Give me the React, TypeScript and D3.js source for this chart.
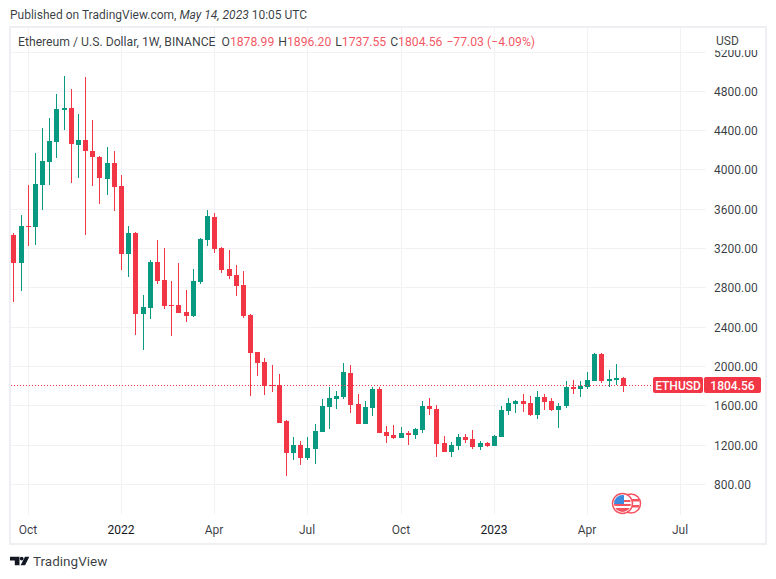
import * as d3 from 'd3';

const opens = [3340, 3057, 3431, 3414, 3849, 4083, 4287, 4613, 4633, 4256, 4307, 4195, 4134, 3910, 4073, 3839, 3146, 3360, 2535, 2596, 3065, 2881, 2627, 2627, 2555, 2515, 2861, 3289, 3523, 3207, 2993, 2932, 2830, 2525, 2148, 2046, 1812, 1812, 1445, 1119, 1201, 1068, 1160, 1333, 1588, 1669, 1690, 1934, 1618, 1415, 1577, 1771, 1333, 1303, 1272, 1323, 1303, 1354, 1598, 1567, 1221, 1129, 1191, 1282, 1262, 1180, 1221, 1191, 1282, 1547, 1618, 1649, 1628, 1506, 1690, 1649, 1557, 1598, 1791, 1771, 1791, 1853, 2128, 1853, 1863, 1878.99];
const highs = [3360, 3543, 3849, 4175, 4429, 4531, 4776, 4959, 4826, 4572, 4949, 4511, 4144, 4236, 4195, 3951, 3431, 3370, 2728, 3085, 3289, 3207, 2871, 3054, 2779, 2993, 3309, 3594, 3564, 3217, 3187, 3034, 2973, 2535, 2148, 2087, 2015, 1924, 1455, 1282, 1241, 1282, 1415, 1669, 1791, 1751, 2036, 2015, 1720, 1649, 1791, 1791, 1394, 1405, 1384, 1343, 1374, 1649, 1679, 1608, 1292, 1231, 1313, 1313, 1354, 1241, 1231, 1303, 1598, 1679, 1659, 1720, 1700, 1751, 1720, 1679, 1628, 1853, 1863, 1853, 1944, 2138, 2138, 1965, 2026, 1896.2];
const lows = [2660, 2769, 3230, 3238, 3594, 3849, 4124, 4409, 3869, 3920, 3340, 3839, 3655, 3747, 3584, 2983, 2912, 2321, 2168, 2484, 2840, 2586, 2311, 2545, 2453, 2504, 2840, 3228, 3156, 2953, 2891, 2718, 2494, 1700, 1903, 1710, 1741, 1425, 885, 1048, 997, 1048, 1007, 1333, 1364, 1567, 1669, 1527, 1415, 1415, 1496, 1323, 1221, 1262, 1272, 1201, 1262, 1323, 1506, 1079, 1129, 1079, 1150, 1221, 1160, 1150, 1180, 1191, 1282, 1506, 1527, 1537, 1496, 1466, 1557, 1547, 1374, 1577, 1720, 1690, 1771, 1853, 1832, 1791, 1812, 1737.55];
const closes = [3057, 3431, 3421, 3859, 4093, 4297, 4623, 4633, 4266, 4307, 4195, 4134, 3920, 4073, 3828, 3146, 3360, 2535, 2606, 3065, 2871, 2616, 2616, 2545, 2515, 2871, 3299, 3533, 3197, 2983, 2922, 2820, 2515, 2138, 2036, 1802, 1802, 1425, 1119, 1201, 1068, 1170, 1343, 1598, 1679, 1700, 1944, 1608, 1415, 1588, 1771, 1323, 1292, 1272, 1323, 1303, 1364, 1598, 1567, 1211, 1129, 1201, 1282, 1252, 1180, 1221, 1191, 1292, 1557, 1628, 1649, 1618, 1506, 1690, 1639, 1557, 1598, 1791, 1771, 1802, 1863, 2128, 1853, 1873, 1883, 1804.56];

const priceTicks = [800, 1200, 1600, 2000, 2400, 2800, 3200, 3600, 4000, 4400, 4800, 5200];
// bar index of each time label, counted in weeks from the first candle
const timeTicks = [2, 15, 28, 41, 54, 67, 80, 93];
const timeLabels = ['Oct', '2022', 'Apr', 'Jul', 'Oct', '2023', 'Apr', 'Jul'];

const lastClose = closes[closes.length - 1];

const UP = '#089981';
const DOWN = '#F23645';
const GRID = '#F2F2F5';
const FRAME = '#EEEEF3';
const TEXT = '#131722';
const FONT = 'Roboto, sans-serif';

const x = d3.scaleLinear().domain([0, 93]).range([13.95, 680.76]);
const y = d3.scaleLinear().domain([800, 5200]).range([484.3, 52]);

const px = (i: number) => Math.floor(x(i));

export default function App() {
    const lastY = Math.floor(y(lastClose));

    return (
        <svg
            width={776}
            height={579}
            viewBox="0 0 776 579"
            style={{ position: 'absolute', left: 0, top: 0, background: '#fff' }}
            fontFamily={FONT}
        >
            <defs>
                <clipPath id="flagClip">
                    <circle cx={622.5} cy={503.5} r={8.5} />
                </clipPath>
            </defs>

            <text x={10} y={19} fontSize={12} fill={TEXT} fillOpacity={0.85}>
                Published on TradingView.com, <tspan fontStyle="italic">May 14, 2023</tspan> 10:05 UTC
            </text>

            <g shapeRendering="crispEdges">
                {priceTicks.map((d) => (
                    <line key={d} x1={11} x2={706} y1={Math.floor(y(d)) + 0.5} y2={Math.floor(y(d)) + 0.5} stroke={GRID} />
                ))}
                {timeTicks.map((d) => (
                    <line key={d} x1={px(d) + 0.5} x2={px(d) + 0.5} y1={28} y2={515} stroke={GRID} />
                ))}
                <rect x={10} y={27} width={756} height={517} fill="none" stroke={FRAME} strokeWidth={2} />
            </g>

            <g shapeRendering="crispEdges">
                {closes.map((c, i) => {
                    const o = opens[i];
                    const color = c >= o ? UP : DOWN;
                    const top = Math.round(y(Math.max(o, c)));
                    const bottom = Math.round(y(Math.min(o, c)));
                    return (
                        <g key={i} fill={color}>
                            <rect
                                x={px(i)}
                                y={Math.round(y(highs[i]))}
                                width={1}
                                height={Math.max(1, Math.round(y(lows[i])) - Math.round(y(highs[i])))}
                            />
                            <rect x={px(i) - 2} y={top} width={5} height={Math.max(1, bottom - top)} />
                        </g>
                    );
                })}
            </g>

            <line x1={11} x2={653} y1={lastY + 0.5} y2={lastY + 0.5} stroke={DOWN} strokeWidth={1} strokeDasharray="1 2" shapeRendering="crispEdges" />

            <g fontSize={12} fill={TEXT} fillOpacity={0.85}>
                {priceTicks.map((d) => (
                    <text key={d} x={714} y={y(d) + 4.5}>
                        {d3.format('.2f')(d)}
                    </text>
                ))}
                {timeTicks.map((d, i) => (
                    <text
                        key={d}
                        x={px(d)}
                        y={534}
                        textAnchor="middle"
                        fillOpacity={timeLabels[i].length === 4 ? 1 : 0.85}
                    >
                        {timeLabels[i]}
                    </text>
                ))}
            </g>

            {/* header strip hides the top of the 5200 label */}
            <rect x={707} y={29} width={58} height={21} fill="#fff" />
            <text x={716} y={45} fontSize={12} fill={TEXT} fillOpacity={0.85}>
                USD
            </text>

            <text x={18} y={46} fontSize={12.2} fill={TEXT} fillOpacity={0.85}>
                Ethereum / U.S. Dollar, 1W, BINANCE
                <tspan dx={6}>O</tspan>
                <tspan fill={DOWN}>{d3.format('.2f')(opens[85])}</tspan>
                <tspan dx={4}>H</tspan>
                <tspan fill={DOWN}>{d3.format('.2f')(highs[85])}</tspan>
                <tspan dx={4}>L</tspan>
                <tspan fill={DOWN}>{d3.format('.2f')(lows[85])}</tspan>
                <tspan dx={4}>C</tspan>
                <tspan fill={DOWN}>{d3.format('.2f')(lastClose)}</tspan>
                <tspan dx={4} fill={DOWN}>−77.03 (−4.09%)</tspan>
            </text>

            <rect x={653} y={lastY - 8} width={50} height={16} rx={2} fill={DOWN} />
            <rect x={704} y={lastY - 8} width={57} height={16} rx={2} fill={DOWN} />
            <text x={678} y={lastY + 4.5} fontSize={12} fontWeight={500} fill="#fff" textAnchor="middle">
                ETHUSD
            </text>
            <text x={732.5} y={lastY + 4.5} fontSize={12} fontWeight={500} fill="#fff" textAnchor="middle">
                {d3.format('.2f')(lastClose)}
            </text>

            {/* currency marker */}
            <g>
                <circle cx={631} cy={503.5} r={9.5} fill="#fff" stroke="#F7525F" strokeWidth={1.5} />
                <rect x={629} y={499} width={10} height={2.5} fill="#F7525F" />
                <rect x={629} y={505} width={10} height={2.5} fill="#F7525F" />
                <circle cx={622.5} cy={503.5} r={10} fill="#fff" stroke="#F7525F" strokeWidth={1.5} />
                <g clipPath="url(#flagClip)">
                    <rect x={614} y={495} width={17} height={17} fill="#fff" />
                    <rect x={614} y={500} width={17} height={2} fill="#F7525F" />
                    <rect x={614} y={504} width={17} height={2} fill="#F7525F" />
                    <rect x={614} y={508} width={17} height={4} fill="#F7525F" />
                    <rect x={614} y={495} width={10} height={9} fill="#3D8BE0" />
                </g>
            </g>

            {/* TradingView logo */}
            <path
                d="M10 556.7h9.5v8.6h-4.7v-4.8h-4.8z M25 556.7h4.3l-4.2 8.6h-4.5z"
                fill={TEXT}
            />
            <circle cx={21.7} cy={558.6} r={1.9} fill={TEXT} />
            <text x={33} y={566} fontSize={13.5} fill={TEXT} fillOpacity={0.85}>
                TradingView
            </text>
        </svg>
    );
}
